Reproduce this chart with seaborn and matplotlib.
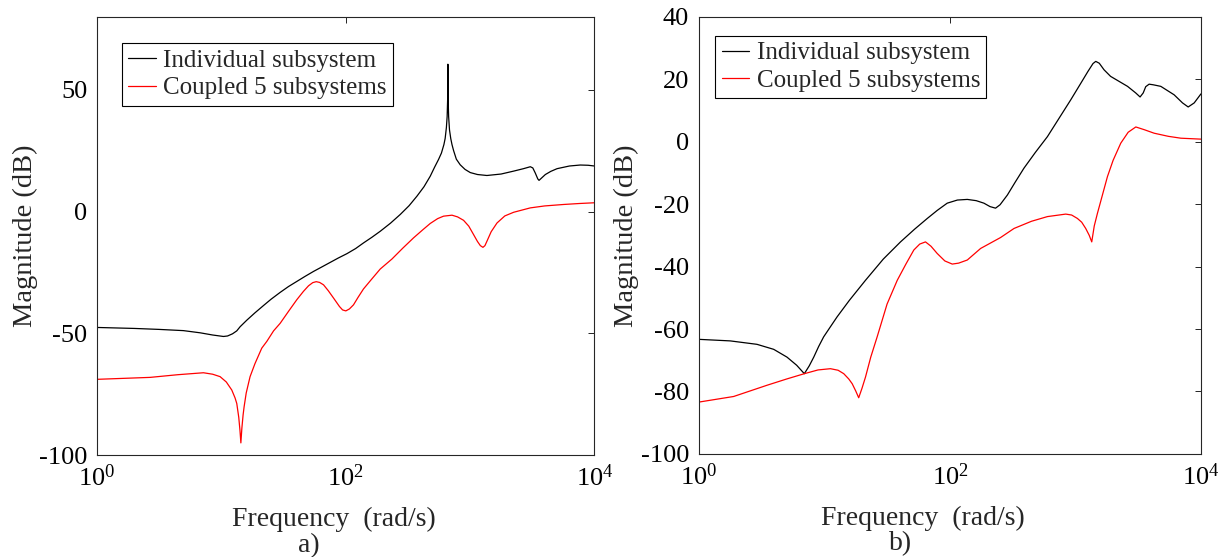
import numpy as np
import matplotlib
matplotlib.use("Agg")
import matplotlib.pyplot as plt
import matplotlib.ticker as mticker
import seaborn as sns

# ---- data (log10 of frequency in rad/s, magnitude in dB) ----
# panel a), individual subsystem
a_ind_exp = [0.0, 0.3, 0.5, 0.695, 0.83, 0.93, 1.017, 1.05, 1.09, 1.124, 1.151, 1.205,
             1.27, 1.339, 1.40, 1.473, 1.54, 1.607, 1.674, 1.741, 1.81, 1.875, 1.94,
             2.01, 2.08, 2.143, 2.21, 2.278, 2.36, 2.439, 2.51, 2.573, 2.63, 2.68,
             2.715, 2.747, 2.77, 2.79, 2.80, 2.81, 2.816, 2.82, 2.822, 2.824, 2.828,
             2.835, 2.845, 2.855, 2.868, 2.89, 2.921, 2.96, 3.002, 3.06, 3.136, 3.25,
             3.351, 3.43, 3.485, 3.505, 3.525, 3.545, 3.555, 3.57, 3.606, 3.65, 3.70,
             3.80, 3.887, 3.95, 4.0]
a_ind_db = [-47.6, -48.0, -48.4, -48.9, -49.8, -50.7, -51.3, -51.1, -50.2, -49.0, -47.3,
            -44.6, -41.6, -38.6, -36.0, -33.2, -30.8, -28.7, -26.6, -24.6, -22.7, -20.9,
            -19.1, -17.3, -15.2, -12.9, -10.6, -8.1, -4.8, -1.2, 2.4, 6.3, 10.2, 14.5,
            18.2, 21.4, 24.0, 27.5, 30.0, 34.5, 39.0, 46.0, 60.5, 46.0, 39.0, 33.5,
            30.0, 27.5, 25.0, 21.5, 19.2, 17.3, 16.0, 15.2, 14.8, 15.4, 16.6, 17.6,
            18.4, 17.9, 15.8, 13.4, 12.8, 13.5, 15.2, 16.5, 17.6, 18.7, 19.1, 19.0, 18.7]

# panel a), coupled 5 subsystems
a_cpl_exp = [0.0, 0.427, 0.65, 0.856, 0.93, 0.99, 1.04, 1.084, 1.11, 1.124, 1.14, 1.15,
             1.157, 1.165, 1.175, 1.183, 1.20, 1.231, 1.27, 1.325, 1.366, 1.42, 1.473,
             1.54, 1.607, 1.66, 1.701, 1.735, 1.763, 1.79, 1.822, 1.86, 1.902, 1.95,
             1.975, 2.001, 2.03, 2.063, 2.10, 2.143, 2.21, 2.278, 2.372, 2.46, 2.546,
             2.62, 2.68, 2.74, 2.787, 2.855, 2.90, 2.948, 2.99, 3.029, 3.06, 3.083,
             3.104, 3.12, 3.136, 3.17, 3.217, 3.28, 3.351, 3.485, 3.60, 3.753, 3.88, 4.0]
a_cpl_db = [-68.9, -68.1, -67.0, -66.2, -66.8, -67.8, -70.0, -73.3, -76.5, -78.8, -84.5,
            -90.0, -95.0, -89.0, -83.5, -80.2, -74.5, -67.8, -62.5, -56.1, -53.3, -49.0,
            -45.9, -41.0, -36.2, -32.8, -30.5, -29.2, -28.8, -29.1, -30.1, -32.5, -35.5,
            -39.0, -40.4, -40.8, -40.0, -38.3, -35.2, -31.8, -27.7, -23.6, -19.5, -15.0,
            -10.8, -7.5, -4.9, -2.9, -1.9, -1.5, -2.2, -3.6, -6.0, -9.5, -12.3, -14.0,
            -14.7, -14.0, -12.2, -8.3, -4.7, -1.8, -0.3, 1.5, 2.3, 2.9, 3.3, 3.6]

# panel b), individual subsystem
b_ind_exp = [0.0, 0.251, 0.464, 0.597, 0.703, 0.78, 0.841, 0.88, 0.916, 0.955, 0.995,
             1.05, 1.102, 1.2, 1.328, 1.47, 1.607, 1.72, 1.82, 1.90, 1.979, 2.06, 2.139,
             2.21, 2.271, 2.32, 2.364, 2.40, 2.458, 2.52, 2.59, 2.68, 2.777, 2.87, 2.963,
             3.04, 3.10, 3.14, 3.162, 3.19, 3.228, 3.28, 3.415, 3.48, 3.515, 3.54, 3.56,
             3.587, 3.62, 3.68, 3.786, 3.853, 3.898, 3.946, 4.0]
b_ind_db = [-63.3, -63.8, -64.9, -66.5, -69.0, -71.6, -74.3, -71.8, -69.0, -65.6, -62.5,
            -59.2, -56.1, -50.8, -44.4, -37.6, -32.1, -28.0, -24.6, -22.0, -19.7, -18.7,
            -18.5, -18.9, -19.7, -20.8, -21.3, -20.2, -17.1, -13.0, -8.5, -3.5, 1.6, 7.5,
            13.4, 18.5, 22.5, 25.0, 25.7, 25.1, 23.0, 20.9, 17.7, 15.6, 14.3, 15.6,
            17.6, 18.4, 18.2, 17.7, 15.0, 12.4, 11.1, 12.4, 15.3]

# panel b), coupled 5 subsystems
b_cpl_exp = [0.0, 0.278, 0.544, 0.70, 0.841, 0.95, 1.049, 1.11, 1.155, 1.195, 1.222,
             1.25, 1.274, 1.30, 1.328, 1.37, 1.421, 1.50, 1.581, 1.65, 1.713, 1.76,
             1.806, 1.85, 1.899, 1.96, 2.019, 2.07, 2.139, 2.245, 2.404, 2.511, 2.65,
             2.777, 2.923, 2.97, 3.016, 3.05, 3.082, 3.11, 3.130, 3.15, 3.175, 3.255,
             3.30, 3.361, 3.42, 3.481, 3.55, 3.627, 3.74, 3.84, 4.0]
b_cpl_db = [-83.4, -81.6, -78.0, -76.0, -74.3, -73.1, -72.7, -73.2, -74.3, -76.0, -77.5,
            -79.8, -82.0, -79.0, -75.4, -69.0, -62.5, -52.0, -44.4, -39.2, -34.7, -32.8,
            -32.1, -33.5, -35.8, -38.2, -39.2, -38.9, -37.9, -34.2, -30.7, -27.8, -25.5,
            -24.0, -23.2, -23.5, -24.6, -25.8, -27.8, -30.0, -32.1, -27.0, -23.0, -11.2,
            -6.0, -0.5, 3.0, 4.7, 3.8, 2.7, 1.7, 1.1, 0.8]

labels = ["Individual subsystem", "Coupled 5 subsystems"]
a_yticks = [-100, -50, 0, 50]
b_yticks = [-100, -80, -60, -40, -20, 0, 20, 40]

sns.set_theme(style="white")
plt.rcParams.update({
    "font.family": ["Liberation Serif", "DejaVu Serif"],
    "mathtext.fontset": "custom",
    "mathtext.rm": "Liberation Serif",
    "mathtext.it": "Liberation Serif:italic",
    "axes.unicode_minus": False,
    "axes.edgecolor": "#262626",
    "axes.linewidth": 0.8,
    "xtick.direction": "in",
    "ytick.direction": "in",
    "xtick.top": True,
    "ytick.right": True,
    "xtick.major.size": 4,
    "ytick.major.size": 4,
    "xtick.major.width": 0.6,
    "ytick.major.width": 0.6,
    "xtick.color": "black",
    "ytick.color": "black",
})

fig = plt.figure(figsize=(12.28, 5.57), dpi=100)
ax_a = fig.add_axes([0.079, 0.183, 0.405, 0.787])
ax_b = fig.add_axes([0.569, 0.185, 0.409, 0.785])


def draw(ax, ind_exp, ind_db, cpl_exp, cpl_db, ylim, yticks, leg_anchor, tag, lab_x, tag_x):
    sns.lineplot(x=10 ** np.array(ind_exp), y=ind_db, ax=ax, color="black",
                 linewidth=0.9, label=labels[0], sort=False, estimator=None)
    sns.lineplot(x=10 ** np.array(cpl_exp), y=cpl_db, ax=ax, color="red",
                 linewidth=0.9, label=labels[1], sort=False, estimator=None)
    ax.set_xscale("log")
    ax.set_xlim(1, 1e4)
    ax.set_ylim(*ylim)
    ax.xaxis.set_major_locator(mticker.FixedLocator([1, 100, 10000]))
    ax.xaxis.set_minor_locator(mticker.NullLocator())
    ax.xaxis.set_major_formatter(mticker.LogFormatterMathtext())
    ax.set_yticks(yticks)
    ax.set_yticklabels([str(t) for t in yticks])
    ax.tick_params(labelsize=19, pad=7)
    ax.set_xlabel("Frequency  (rad/s)", fontsize=20)
    ax.xaxis.set_label_coords(lab_x, -0.118)
    ax.set_ylabel("Magnitude (dB)", fontsize=20.5, labelpad=1)
    ax.text(tag_x, -0.206, tag, transform=ax.transAxes, fontsize=20,
            ha="center", va="center")
    for s in ax.spines.values():
        s.set_visible(True)
    leg = ax.legend(loc="upper left", bbox_to_anchor=leg_anchor, borderaxespad=0,
                    fontsize=18, frameon=True, fancybox=False, framealpha=1,
                    handlelength=1.1, handletextpad=0.3, borderpad=0.25,
                    labelspacing=0.2)
    leg.get_frame().set_edgecolor("black")
    leg.get_frame().set_linewidth(0.8)


draw(ax_a, a_ind_exp, a_ind_db, a_cpl_exp, a_cpl_db, (-100, 80), a_yticks,
     (0.05, 0.94), "a)", 0.477, 0.425)
draw(ax_b, b_ind_exp, b_ind_db, b_cpl_exp, b_cpl_db, (-100, 40), b_yticks,
     (0.033, 0.957), "b)", 0.447, 0.401)

fig.savefig("out.png", dpi=100)
